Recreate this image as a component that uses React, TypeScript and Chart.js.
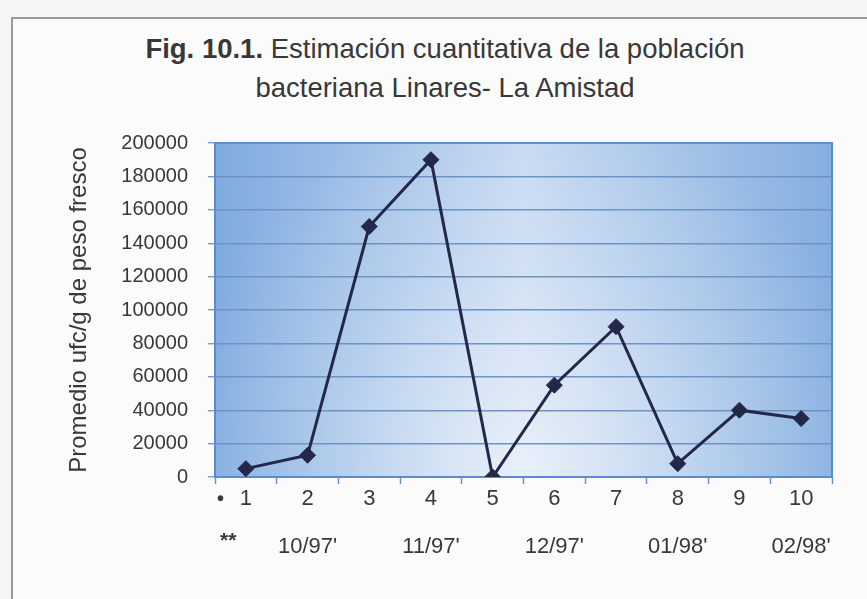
import React, { useEffect, useRef } from "react";
import { Chart, registerables } from "chart.js";

Chart.register(...registerables);

const categories: string[] = ["1", "2", "3", "4", "5", "6", "7", "8", "9", "10"];
const monthLabels: string[] = ["", "10/97'", "", "11/97'", "", "12/97'", "", "01/98'", "", "02/98'"];
const values: number[] = [5000, 13000, 150000, 190000, 0, 55000, 90000, 8000, 40000, 35000];
const yTicks: number[] = [0, 20000, 40000, 60000, 80000, 100000, 120000, 140000, 160000, 180000, 200000];
const rowMarkers: string[] = ["•", "**"];

const FONT = "'Liberation Sans', Arial, sans-serif";
const TEXT = "#383838";

const plotBackground = {
  id: "plotBackground",
  beforeDraw(chart: any) {
    const { ctx, chartArea } = chart;
    const { left, top, right, bottom } = chartArea;
    const w = right - left;
    const h = bottom - top;
    ctx.save();
    const g = ctx.createLinearGradient(left, 0, right, 0);
    g.addColorStop(0, "#7fabdf");
    g.addColorStop(0.5, "#c6d9f1");
    g.addColorStop(1, "#85afe0");
    ctx.fillStyle = g;
    ctx.fillRect(left, top, w, h);
    const r = ctx.createRadialGradient(left + w * 0.5, bottom, 0, left + w * 0.5, bottom, h * 1.1);
    r.addColorStop(0, "rgba(255,255,255,0.6)");
    r.addColorStop(0.6, "rgba(255,255,255,0.2)");
    r.addColorStop(1, "rgba(255,255,255,0)");
    ctx.fillStyle = r;
    ctx.fillRect(left, top, w, h);
    ctx.restore();
  },
};

const plotBorder = {
  id: "plotBorder",
  beforeDatasetsDraw(chart: any) {
    const { ctx, chartArea } = chart;
    ctx.save();
    ctx.strokeStyle = "#5a8cd2";
    ctx.lineWidth = 2;
    ctx.strokeRect(chartArea.left, chartArea.top, chartArea.right - chartArea.left, chartArea.bottom - chartArea.top);
    ctx.restore();
  },
};

const rowKeys = {
  id: "rowKeys",
  afterDraw(chart: any) {
    const { ctx, chartArea } = chart;
    ctx.save();
    ctx.fillStyle = TEXT;
    ctx.textBaseline = "middle";
    ctx.textAlign = "left";
    ctx.font = `bold 20px ${FONT}`;
    ctx.fillText(rowMarkers[0], chartArea.left + 2, chartArea.bottom + 22);
    ctx.font = `bold 21px ${FONT}`;
    ctx.fillText(rowMarkers[1], chartArea.left + 5, chartArea.bottom + 64);
    ctx.restore();
  },
};

export default function App() {
  const ref = useRef<HTMLCanvasElement | null>(null);

  useEffect(() => {
    if (!ref.current) return;
    const chart = new Chart(ref.current, {
      type: "line",
      data: {
        labels: categories,
        datasets: [
          {
            data: values,
            borderColor: "#23274a",
            backgroundColor: "#23274a",
            borderWidth: 3,
            pointStyle: "rectRot",
            pointRadius: 8,
            pointBorderWidth: 1,
            tension: 0,
          },
        ],
      },
      options: {
        animation: false,
        responsive: false,
        maintainAspectRatio: false,
        layout: { padding: { left: 0, right: 35, top: 143, bottom: 0 } },
        plugins: {
          legend: { display: false },
          tooltip: { enabled: false },
          title: { display: false },
        },
        scales: {
          x: {
            type: "category",
            position: "bottom",
            weight: 0,
            offset: true,
            afterFit(scale: any) {
              scale.height = 34;
            },
            grid: {
              offset: true,
              drawOnChartArea: false,
              drawTicks: true,
              tickLength: 7,
              tickColor: "#6a95cf",
              tickWidth: 1.5,
            },
            border: { display: false },
            ticks: {
              color: TEXT,
              font: { family: FONT, size: 22 },
              padding: 2,
              maxRotation: 0,
              autoSkip: false,
            },
          },
          x2: {
            type: "category",
            position: "bottom",
            weight: 1,
            offset: true,
            labels: monthLabels,
            afterFit(scale: any) {
              scale.height = 599 - 477 - 34;
            },
            grid: { display: false },
            border: { display: false },
            ticks: {
              color: TEXT,
              font: { family: FONT, size: 22 },
              padding: 15,
              maxRotation: 0,
              autoSkip: false,
            },
          },
          y: {
            min: 0,
            max: 200000,
            afterFit(scale: any) {
              scale.width = 215;
            },
            afterBuildTicks(scale: any) {
              scale.ticks = yTicks.map((v) => ({ value: v }));
            },
            grid: {
              color: "#6f93c2",
              lineWidth: 1.4,
              drawTicks: true,
              tickLength: 7,
              tickColor: "#7d9cc6",
            },
            border: { display: false },
            ticks: {
              color: TEXT,
              font: { family: FONT, size: 20 },
              padding: 20,
              callback: (v: any) => String(v),
            },
            title: {
              display: true,
              text: "Promedio ufc/g de peso fresco",
              color: TEXT,
              font: { family: FONT, size: 24 },
              padding: { top: 65, bottom: 0 },
            },
          },
        },
      },
      plugins: [plotBackground, plotBorder, rowKeys],
    });
    return () => chart.destroy();
  }, []);

  return (
    <div style={{ position: "fixed", left: 0, top: 0, width: 867, height: 599, background: "#f6f6f6", overflow: "hidden" }}>
      <div
        style={{
          position: "absolute",
          left: 11,
          top: 17,
          width: 900,
          height: 700,
          borderLeft: "2px solid #9a9a9a",
          borderTop: "2px solid #9a9a9a",
          background: "#fbfbfb",
        }}
      />
      <div
        style={{
          position: "absolute",
          left: 0,
          width: 890,
          top: 29,
          textAlign: "center",
          fontFamily: FONT,
          fontSize: 27.5,
          lineHeight: "39px",
          color: TEXT,
          whiteSpace: "nowrap",
        }}
      >
        <div>
          <b>Fig. 10.1.</b> Estimación cuantitativa de la población
        </div>
        <div>bacteriana Linares- La Amistad</div>
      </div>
      <canvas ref={ref} width={867} height={599} style={{ position: "absolute", left: 0, top: 0 }} />
    </div>
  );
}
